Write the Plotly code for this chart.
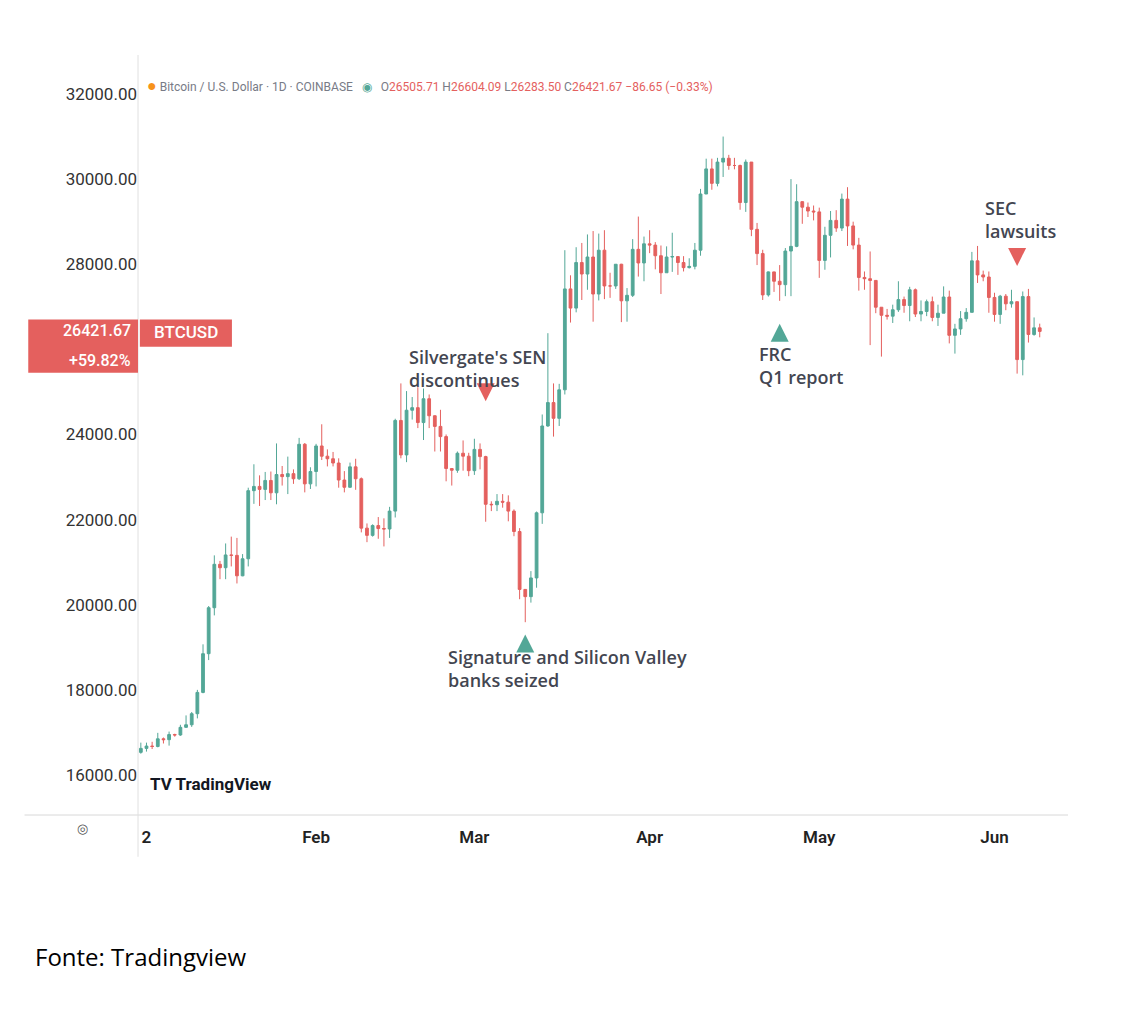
import pandas as pd
import plotly.graph_objects as go

# daily BTCUSD candles, Jan 1 - Jun 9 2023
close_jan = [16625,16680,16670,16850,16830,16950,16940,17120,17180,17440,17940,18850,19930,20950,20870,21170,21160,20680,21080,22680,22780,22710,22920,22630,23060,23010,23080,22960,23770,22840,23130]
close_feb = [23730,23490,23430,23330,22930,22760,23240,22960,21800,21630,21860,21790,21780,22200,24330,23520,24570,24630,24280,24840,24440,24190,23950,23200,23160,23560,23490,23150]
close_mar = [23650,23480,22360,22350,22430,22410,22200,21720,20360,20190,20630,22160,24200,24750,24380,25050,27420,26970,28040,27770,28170,27300,28330,27490,27490,28000,27140,27270,28350,28030,28480]
close_apr = [28450,28200,27800,28170,28180,28040,27920,27950,28330,29650,30240,29900,30400,30490,30320,30320,29450,30400,28820,28250,27280,27820,27600,27520,28310,28420,29470,29340,29250,29230]
close_may = [28090,28680,29030,28850,29530,28900,28450,27690,27660,27620,26990,26800,26780,26930,27170,27030,27400,26830,26890,27120,26750,26850,27230,26330,26480,26720,26870,28080,27750,27700,27220]
close_jun = [26820,27250,27070,27120,25760,27240,26350,26505.71,26421.67]

high_jan = [16760,16760,16780,16990,16880,17020,16970,17180,17400,17480,18000,19070,19970,21160,21030,21440,21600,21570,21190,22750,23300,23040,23120,23130,23790,23260,23480,23180,23920,23800,23230]
high_feb = [23780,24240,23650,23590,23440,23140,23340,23430,22990,21910,21890,22060,22030,22300,24370,25200,25020,24880,25110,25080,24940,24450,24580,24000,23210,23600,23860,23570]
high_mar = [23900,23790,23500,22430,22600,22600,22570,22240,21800,20300,20790,22190,24470,26380,25200,25190,28330,27740,28400,28500,28700,28780,28720,28800,27800,28000,28010,27440,28590,29120,28650]
high_apr = [28800,28520,28440,28420,28740,28180,28190,28140,28500,29770,30480,30480,30500,31000,30570,30500,30340,30460,30400,28970,28340,27830,27800,27980,28380,30000,29880,29430,29450,29380]
high_may = [29330,28880,29250,29270,29660,29810,29000,28620,27830,28300,27620,26990,26950,27050,27600,27240,27470,27430,27150,27170,27240,27050,27480,27380,26600,26900,26970,28290,28430,27850,27830]
high_jun = [27330,27280,27300,27400,27120,27360,27420,26750,26604.09]

low_jan = [16500,16550,16610,16650,16740,16690,16900,16920,17110,17130,17330,17920,18700,19750,20600,20600,20900,20500,20670,20900,22370,22320,22460,22460,22360,22800,22600,22840,22930,22640,22720]
low_feb = [22780,23400,23250,23250,22750,22640,22750,22700,21700,21470,21600,21550,21370,21570,22050,23440,23350,24350,24150,23870,24150,23600,23600,22900,22800,23100,23150,23020]
low_mar = [23050,23180,21950,22200,22200,22280,21960,21610,20130,19590,20050,20400,21900,24180,23950,24200,24940,26630,26870,27160,27400,26650,27150,27180,27210,27420,26640,26650,27230,27710,27600]
low_apr = [28260,27880,27300,27800,27820,27750,27830,27900,27880,28200,29690,29750,29830,30050,30220,30230,29280,29230,28660,27980,27160,27240,27350,27140,27250,27250,28400,28950,29110,29030]
low_may = [27680,27870,28160,28760,28780,28430,28350,27380,27400,26100,26850,25830,26700,26620,26880,26860,26660,26760,26660,26780,26660,26550,26850,26140,25900,26340,26650,26870,27560,27600,26860]
low_jun = [26650,26600,26920,26980,25430,25390,26160,26320,26283.50]

first_open = 16532

closes = close_jan + close_feb + close_mar + close_apr + close_may + close_jun
highs = high_jan + high_feb + high_mar + high_apr + high_may + high_jun
lows = low_jan + low_feb + low_mar + low_apr + low_may + low_jun
opens = [first_open] + closes[:-1]
dates = pd.date_range("2023-01-01", periods=len(closes))

tick_dates = ["2023-01-02", "2023-02-01", "2023-03-01", "2023-04-01", "2023-05-01", "2023-06-01"]
tick_text = ["2", "Feb", "Mar", "Apr", "May", "Jun"]
# 26000 is hidden behind the price label in the original
y_ticks = [16000, 18000, 20000, 22000, 24000, 28000, 30000, 32000]

# events: (arrow date, arrow price, direction, text, text price, text date)
events = [
    ("2023-03-03", 24780, "down", "Silvergate's SEN<br>discontinues", 25560, "2023-02-17"),
    ("2023-03-10", 19300, "up", "Signature and Silicon Valley<br>banks seized", 18500, "2023-02-24"),
    ("2023-04-24", 26600, "up", "FRC<br>Q1 report", 25620, "2023-04-20"),
    ("2023-06-05", 27960, "down", "SEC<br>lawsuits", 29050, "2023-05-30"),
]

GREEN = "#53a797"
RED = "#e4605e"

fig = go.Figure()
fig.add_trace(go.Candlestick(
    x=dates, open=opens, high=highs, low=lows, close=closes,
    increasing=dict(line=dict(color=GREEN, width=1), fillcolor=GREEN),
    decreasing=dict(line=dict(color=RED, width=1), fillcolor=RED),
    whiskerwidth=0, showlegend=False,
))

for d, p, direc, txt, tp, td in events:
    col = RED if direc == "down" else GREEN
    fig.add_trace(go.Scatter(
        x=[d], y=[p], mode="markers", showlegend=False,
        marker=dict(symbol="arrow-" + direc, size=18, color=col),
    ))
    fig.add_annotation(x=td, y=tp, text=txt, showarrow=False, xanchor="left",
                       align="left", font=dict(size=18, color="#434651", family="Open Sans", weight=600))

fig.update_layout(
    width=1138, height=1012,
    margin=dict(l=130, r=78, t=47, b=205),
    paper_bgcolor="white", plot_bgcolor="white",
    font=dict(family="Roboto", color="#333"),
    xaxis=dict(range=["2022-12-31 12:00", "2023-06-14"], rangeslider=dict(visible=False),
               tickvals=tick_dates, ticktext=tick_text, showgrid=False, ticklabelstandoff=10,
               tickfont=dict(size=17, color="#222", weight=600), ticks="", ticklen=0),
    yaxis=dict(range=[15060, 32916], tickvals=y_ticks,
               tickformat=".2f", showgrid=False, side="left",
               tickfont=dict(size=17, color="#333"), ticks="", zeroline=False),
)

# frame lines
fig.add_shape(type="line", xref="paper", yref="paper", x0=-0.122, x1=1, y0=0, y1=0,
              line=dict(color="#d8d8d8", width=1))
fig.add_shape(type="line", xref="paper", yref="paper", x0=0, x1=0, y0=-0.055, y1=1,
              line=dict(color="#e0e0e0", width=1))

# price label boxes
fig.add_shape(type="rect", xref="paper", yref="paper", x0=-0.118, x1=0, y0=0.582, y1=0.652,
              fillcolor=RED, line_width=0)
fig.add_shape(type="rect", xref="paper", yref="paper", x0=0.002, x1=0.101, y0=0.616, y1=0.652,
              fillcolor=RED, line_width=0)
for txt, yy in [("26421.67", 0.637), ("+59.82%", 0.598)]:
    fig.add_annotation(xref="paper", yref="paper", x=-0.006, y=yy, text=txt,
                       showarrow=False, xanchor="right", borderpad=0,
                       font=dict(size=16, color="white", family="Roboto", weight=500))
fig.add_annotation(xref="paper", yref="paper", x=0.052, y=0.635, text="BTCUSD",
                   showarrow=False, xanchor="center",
                   font=dict(size=17, color="white", family="Roboto", weight=500))

# header
lab = "color:#787b86"
num = "color:#e4605e"
hdr = (f"<span style='color:#f7931a;font-size:16px'>●</span> <span style='{lab}'>Bitcoin / U.S. Dollar · 1D · COINBASE</span>"
       f"   <span style='color:#53a797'>◉</span>   "
       f"<span style='{lab}'>O</span><span style='{num}'>26505.71</span> "
       f"<span style='{lab}'>H</span><span style='{num}'>26604.09</span> "
       f"<span style='{lab}'>L</span><span style='{num}'>26283.50</span> "
       f"<span style='{lab}'>C</span><span style='{num}'>26421.67</span> "
       f"<span style='{num}'>−86.65 (−0.33%)</span>")
fig.add_annotation(xref="paper", yref="paper", x=0.008, y=1.0 - 19 / 760, text=hdr,
                   showarrow=False, xanchor="left", font=dict(size=12, family="Roboto"))

fig.add_annotation(xref="paper", yref="paper", x=0.011, y=0.025, text="<b>TV TradingView</b>",
                   showarrow=False, xanchor="left", font=dict(size=17, color="#131722", family="Roboto"))
fig.add_annotation(xref="paper", yref="paper", x=-0.06, y=-0.03, text="◎",
                   showarrow=False, xanchor="center", font=dict(size=13, color="#555"))
fig.add_annotation(xref="paper", yref="paper", x=-0.113, y=-0.21, text="Fonte: Tradingview",
                   showarrow=False, xanchor="left", font=dict(size=24, color="black", family="Open Sans"))

fig.write_html("out.html")
